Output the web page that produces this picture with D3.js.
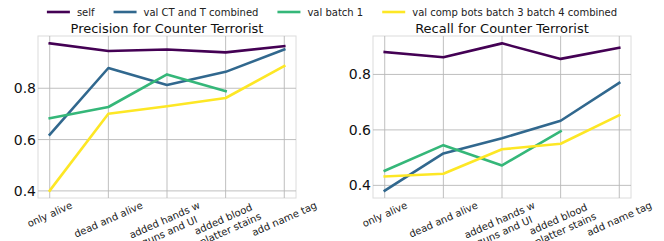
<!DOCTYPE html>
<html>
<head>
<meta charset="utf-8">
<script src="https://cdn.jsdelivr.net/npm/d3@7"></script>
<style>
  html, body { margin: 0; padding: 0; background: #fff; }
  svg { display: block; font-family: 'DejaVu Sans', sans-serif; }
</style>
</head>
<body>
<script>
const categories = ['only alive', 'dead and alive', 'added hands w\nguns and UI', 'added blood\nsplatter stains', 'add name tag'];
const seriesNames = ['self', 'val CT and T combined', 'val batch 1', 'val comp bots batch 3 batch 4 combined'];
const seriesColors = ['#440154', '#31688e', '#35b779', '#fde725'];

const precisionSelf = [0.975, 0.945, 0.951, 0.940, 0.964];
const precisionCtT = [0.619, 0.879, 0.813, 0.864, 0.951];
const precisionBatch1 = [0.683, 0.727, 0.854, 0.789];
const precisionCompBots = [0.401, 0.701, 0.730, 0.762, 0.887];

const recallSelf = [0.881, 0.862, 0.912, 0.856, 0.896];
const recallCtT = [0.381, 0.515, 0.570, 0.633, 0.770];
const recallBatch1 = [0.453, 0.545, 0.472, 0.595];
const recallCompBots = [0.432, 0.442, 0.530, 0.550, 0.653];

const yTicks = [0.4, 0.6, 0.8];

const width = 664;
const height = 241;
const plotTop = 36;
const plotBottom = 198;
const labelAngle = 24;
const labelSize = 10;

const svg = d3.select('body')
  .append('svg')
  .attr('width', width)
  .attr('height', height);

// legend, centred over the figure
const legend = svg.append('g').attr('class', 'legend');
let lx = 0;
seriesNames.forEach((name, i) => {
  legend.append('line')
    .attr('x1', lx).attr('x2', lx + 23)
    .attr('y1', 12).attr('y2', 12)
    .attr('stroke', seriesColors[i])
    .attr('stroke-width', 2.6);
  const t = legend.append('text')
    .attr('x', lx + 30)
    .attr('y', 15.5)
    .attr('font-size', 10)
    .attr('fill', '#222')
    .text(name);
  lx += 30 + t.node().getComputedTextLength() + 19;
});
const legendWidth = lx - 19;
legend.attr('transform', `translate(${ 332 - legendWidth / 2 },0)`);

function drawPanel(left, right, title, series) {
  const all = series.flat();
  const [lo, hi] = d3.extent(all);
  const pad = (hi - lo) * 0.05;

  const x = d3.scalePoint()
    .domain(d3.range(categories.length))
    .range([left, right])
    .padding(0.2);

  const y = d3.scaleLinear()
    .domain([lo - pad, hi + pad])
    .range([plotBottom, plotTop]);

  const g = svg.append('g');

  // frame
  g.append('rect')
    .attr('x', left).attr('y', plotTop)
    .attr('width', right - left).attr('height', plotBottom - plotTop)
    .attr('fill', 'none')
    .attr('stroke', '#dcdcdc')
    .attr('stroke-width', 1);

  // grid
  g.selectAll('.vgrid')
    .data(d3.range(categories.length))
    .enter()
    .append('line')
    .attr('x1', d => x(d)).attr('x2', d => x(d))
    .attr('y1', plotTop).attr('y2', plotBottom)
    .attr('stroke', '#b8b8b8')
    .attr('stroke-width', 0.9);

  g.selectAll('.hgrid')
    .data(yTicks)
    .enter()
    .append('line')
    .attr('x1', left).attr('x2', right)
    .attr('y1', d => y(d)).attr('y2', d => y(d))
    .attr('stroke', '#b8b8b8')
    .attr('stroke-width', 0.9);

  // y tick labels
  g.selectAll('.ylabel')
    .data(yTicks)
    .enter()
    .append('text')
    .attr('x', left - 2)
    .attr('y', d => y(d))
    .attr('dy', '0.36em')
    .attr('text-anchor', 'end')
    .attr('font-size', 14)
    .attr('fill', '#111')
    .text(d => d3.format('.1f')(d));

  // rotated x tick labels, centred below each tick
  const rad = labelAngle * Math.PI / 180;
  categories.forEach((cat, i) => {
    const lines = cat.split('\n');
    const lab = g.append('g');
    const texts = lines.map((ln, j) => lab.append('text')
      .attr('x', 0)
      .attr('y', (j - (lines.length - 1) / 2) * labelSize * 1.2)
      .attr('dy', '0.35em')
      .attr('text-anchor', 'middle')
      .attr('font-size', labelSize)
      .attr('fill', '#222')
      .text(ln));
    const w = d3.max(texts, t => t.node().getComputedTextLength());
    const h = labelSize + (lines.length - 1) * labelSize * 1.2;
    const boxH = w * Math.sin(rad) + h * Math.cos(rad);
    lab.attr('transform', `translate(${ x(i) },${ plotBottom + 2 + boxH / 2 }) rotate(${ -labelAngle })`);
  });

  // series lines
  const line = d3.line()
    .x((d, i) => x(i))
    .y(d => y(d));

  series.forEach((values, i) => {
    g.append('path')
      .datum(values)
      .attr('d', line)
      .attr('fill', 'none')
      .attr('stroke', seriesColors[i])
      .attr('stroke-width', 2.6)
      .attr('stroke-linecap', 'square')
      .attr('stroke-linejoin', 'round');
  });

  // title
  g.append('text')
    .attr('x', (left + right) / 2)
    .attr('y', 33)
    .attr('text-anchor', 'middle')
    .attr('font-size', 13)
    .attr('fill', '#111')
    .text(title);
}

drawPanel(38, 296, 'Precision for Counter Terrorist',
  [precisionSelf, precisionCtT, precisionBatch1, precisionCompBots]);
drawPanel(373, 631, 'Recall for Counter Terrorist',
  [recallSelf, recallCtT, recallBatch1, recallCompBots]);
</script>
</body>
</html>
